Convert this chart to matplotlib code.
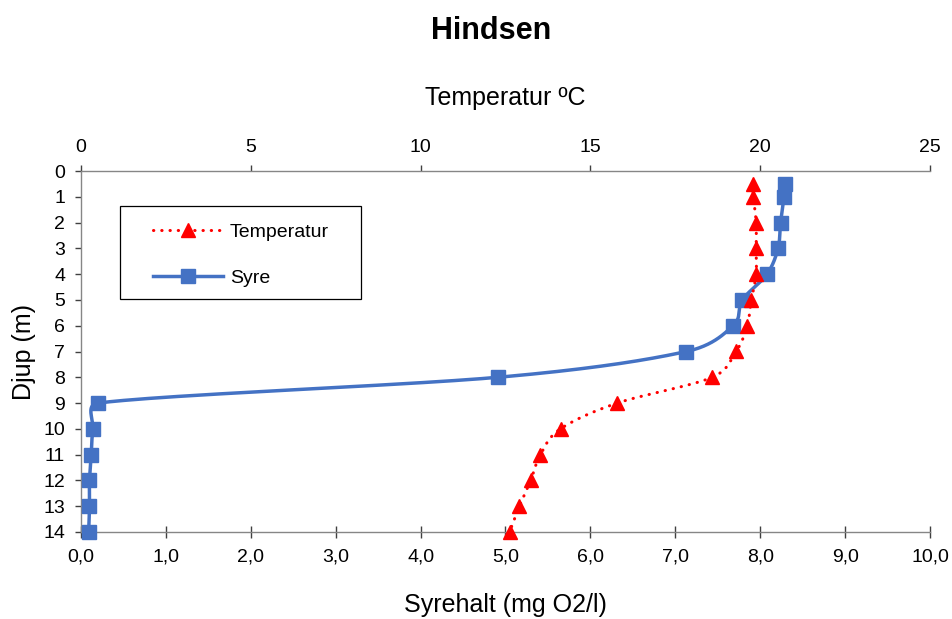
import numpy as np
import matplotlib
matplotlib.use("Agg")
import matplotlib.pyplot as plt
from matplotlib.lines import Line2D
from matplotlib.patches import Rectangle

plt.rcParams['font.family'] = ['Liberation Sans', 'DejaVu Sans']

# Data
depth_temp = [0.5, 1, 2, 3, 4, 5, 6, 7, 8, 9, 10, 11, 12, 13, 14]
temperatur = [19.79, 19.8, 19.88, 19.88, 19.88, 19.74, 19.62, 19.29, 18.59, 15.79, 14.12, 13.53, 13.24, 12.91, 12.62]
depth_syre = [0.5, 1, 2, 3, 4, 5, 6, 7, 8, 9, 10, 11, 12, 13, 14]
syre = [8.29, 8.28, 8.24, 8.21, 8.08, 7.79, 7.68, 7.13, 4.91, 0.2, 0.14, 0.12, 0.1, 0.1, 0.09]
y_ticks = list(range(0, 15))
x_ticks_syre = [0, 1, 2, 3, 4, 5, 6, 7, 8, 9, 10]
x_ticks_temp = [0, 5, 10, 15, 20, 25]

W, H = 953, 619
L, R, T, B = 81, 930, 171, 532
fig = plt.figure(figsize=(W / 100, H / 100), dpi=100)
ax = fig.add_axes([L / W, 1 - B / H, (R - L) / W, (B - T) / H])
ax.set_xlim(0, 10)
ax.set_ylim(14, 0)
axt = ax.twiny()
axt.set_xlim(0, 25)
axt.set_ylim(14, 0)


def smooth(axis, xs, ys, n=40, k=0.5):
    trans = axis.transData
    pts = trans.transform(np.column_stack([xs, ys]))
    P = np.vstack([pts[0], pts, pts[-1]])
    out = []
    for i in range(1, len(P) - 2):
        p0, p1, p2, p3 = P[i - 1], P[i], P[i + 1], P[i + 2]
        seg = np.linalg.norm(p2 - p1)
        t1 = (p2 - p0) / 6
        t2 = (p3 - p1) / 6
        n1, n2 = np.linalg.norm(t1), np.linalg.norm(t2)
        if n1 > k * seg and n1 > 0:
            t1 = t1 * (k * seg / n1)
        if n2 > k * seg and n2 > 0:
            t2 = t2 * (k * seg / n2)
        c1 = p1 + t1
        c2 = p2 - t2
        t = np.linspace(0, 1, n)[:, None]
        b = ((1 - t) ** 3) * p1 + 3 * ((1 - t) ** 2) * t * c1 + 3 * (1 - t) * t ** 2 * c2 + t ** 3 * p2
        out.append(b if i == 1 else b[1:])
    out = np.vstack(out)
    d = trans.inverted().transform(out)
    return d[:, 0], d[:, 1]


red = '#FF0000'
blue = '#4472C4'
dots = (0, (0.1, 2.6))

sx, sy = smooth(ax, syre, depth_syre)
ax.plot(sx, sy, color=blue, lw=2.5, zorder=3, solid_capstyle='round')
ax.plot(syre, depth_syre, ls='none', marker='s', ms=9.5, color=blue, zorder=4, clip_on=False)

tx, ty = smooth(axt, temperatur, depth_temp)
axt.plot(tx, ty, color=red, lw=2.2, ls=dots, dash_capstyle='round', zorder=3)
axt.plot(temperatur, depth_temp, ls='none', marker='^', ms=10, color=red, zorder=4, clip_on=False)

# legend
h1 = Line2D([], [], color=red, lw=2.2, ls=dots, dash_capstyle='round', marker='^', ms=10)
h2 = Line2D([], [], color=blue, lw=2.5, marker='s', ms=9.5)
leg = axt.legend([h1, h2], ['Temperatur', 'Syre'], loc='center left',
                 bbox_to_anchor=((153 - L) / (R - L), (B - 255) / (B - T)),
                 frameon=False, fontsize=14, handlelength=3.6, labelspacing=1.47,
                 borderpad=0, handletextpad=0.35, borderaxespad=0)
leg.set_zorder(10)
axt.add_patch(Rectangle(((120 - L) / (R - L), (B - 299) / (B - T)),
                        (361 - 120) / (R - L), (299 - 206) / (B - T),
                        transform=axt.transAxes, fill=True, facecolor='white',
                        edgecolor='black', lw=0.9, zorder=9))

ax.set_yticks(y_ticks)
ax.set_xticks(x_ticks_syre)
ax.set_xticklabels([f"{v:.1f}".replace('.', ',') for v in x_ticks_syre])
axt.set_xticks(x_ticks_temp)
axt.set_xticklabels([str(v) for v in x_ticks_temp])

for a in (ax, axt):
    a.spines['right'].set_visible(False)
    for s in a.spines.values():
        s.set_color('#868686')
        s.set_linewidth(1.0)
ax.spines['top'].set_visible(False)
axt.spines['bottom'].set_visible(False)
axt.spines['left'].set_visible(False)

ax.tick_params(axis='x', direction='inout', length=8.6, width=1, color='#404040', labelsize=14, pad=7.5)
ax.tick_params(axis='y', direction='out', length=4.5, width=1, color='#404040', labelsize=14, pad=7)
axt.tick_params(axis='x', direction='out', length=4.5, width=1, color='#404040', labelsize=14, pad=6)
axt.tick_params(axis='y', left=False, right=False, labelleft=False, labelright=False)

ax.set_xlabel('Syrehalt (mg O2/l)', fontsize=18, labelpad=20)
ax.set_ylabel('Djup (m)', fontsize=18, labelpad=5)
axt.set_xlabel('Temperatur ºC', fontsize=18, labelpad=25)
fig.text(491 / W, 1 - 31 / H, 'Hindsen', fontsize=22, fontweight='bold', ha='center', va='center')

fig.savefig('out.png', dpi=100)
